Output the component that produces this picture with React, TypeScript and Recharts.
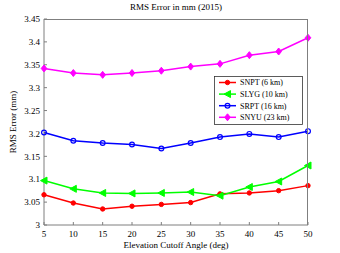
import React from 'react';
import { LineChart, Line, XAxis, YAxis } from 'recharts';

const angles = [5, 10, 15, 20, 25, 30, 35, 40, 45, 50];
const snpt = [3.066, 3.048, 3.035, 3.041, 3.045, 3.049, 3.068, 3.070, 3.075, 3.086];
const slyg = [3.097, 3.079, 3.070, 3.069, 3.070, 3.072, 3.064, 3.083, 3.095, 3.130];
const srpt = [3.202, 3.184, 3.179, 3.176, 3.167, 3.179, 3.192, 3.199, 3.192, 3.205];
const snyu = [3.342, 3.332, 3.328, 3.332, 3.337, 3.346, 3.352, 3.371, 3.379, 3.409];
const yTicks = [3, 3.05, 3.1, 3.15, 3.2, 3.25, 3.3, 3.35, 3.4, 3.45];

const data = angles.map((a, i) => ({ a, snpt: snpt[i], slyg: slyg[i], srpt: srpt[i], snyu: snyu[i] }));

const FONT = '"Liberation Serif", "Times New Roman", serif';
const AXIS = '#7f7f7f';

type MarkerKind = 'circle' | 'tri' | 'ring' | 'diamond';

function marker(kind: MarkerKind, color: string, cx: number, cy: number, key?: string) {
  if (kind === 'circle') return <circle key={key} cx={cx} cy={cy} r={2.2} fill={color} stroke={color} />;
  if (kind === 'ring') return <circle key={key} cx={cx} cy={cy} r={2.4} fill="none" stroke={color} strokeWidth={1.2} />;
  if (kind === 'tri')
    return <polygon key={key} points={`${cx - 3.5},${cy} ${cx + 3},${cy - 3.5} ${cx + 3},${cy + 3.5}`} fill={color} stroke={color} />;
  return <polygon key={key} points={`${cx},${cy - 3.5} ${cx + 2.8},${cy} ${cx},${cy + 3.5} ${cx - 2.8},${cy}`} fill={color} stroke={color} />;
}

const series: { key: string; name: string; color: string; kind: MarkerKind }[] = [
  { key: 'snpt', name: 'SNPT (6 km)', color: '#ff0000', kind: 'circle' },
  { key: 'slyg', name: 'SLYG (10 km)', color: '#00ff00', kind: 'tri' },
  { key: 'srpt', name: 'SRPT (16 km)', color: '#0000ff', kind: 'ring' },
  { key: 'snyu', name: 'SNYU (23 km)', color: '#ff00ff', kind: 'diamond' },
];

function LegendBox() {
  return (
    <svg width={89} height={49} style={{ display: 'block' }}>
      <rect x={0.5} y={0.5} width={88} height={48} fill="#fff" stroke="#333" strokeWidth={0.8} />
      {series.map((s, i) => {
        const y = 6.5 + i * 11.6;
        return (
          <g key={s.key}>
            <line x1={5} x2={22} y1={y} y2={y} stroke={s.color} strokeWidth={1.5} />
            {marker(s.kind, s.color, 13.5, y)}
            <text x={26} y={y + 2.8} fontSize={8} fontFamily={FONT} fill="#000">{s.name}</text>
          </g>
        );
      })}
    </svg>
  );
}

export default function App() {
  return (
    <div style={{ position: 'absolute', left: 0, top: 0, width: 340, height: 253, background: '#fff' }}>
      <div style={{ position: 'absolute', left: 44, width: 264, top: 2, textAlign: 'center', fontFamily: FONT, fontSize: 9 }}>
        RMS Error in mm (2015)
      </div>
      <LineChart width={340} height={253} data={data} margin={{ top: 19, right: 32, left: 10, bottom: 8 }}>
        <XAxis
          dataKey="a"
          type="number"
          domain={[5, 50]}
          ticks={angles}
          tickSize={-3}
          tickMargin={9}
          height={20}
          stroke={AXIS}
          tick={{ fontSize: 9, fontFamily: FONT, fill: '#000' }}
          label={{ value: 'Elevation Cutoff Angle (deg)', position: 'insideBottom', offset: -3, fontSize: 9, fontFamily: FONT, fill: '#000' }}
        />
        <YAxis
          type="number"
          domain={[3, 3.45]}
          ticks={yTicks}
          interval={0}
          tickSize={-3}
          tickMargin={7}
          width={34}
          stroke={AXIS}
          tickFormatter={(v: number) => String(v)}
          tick={{ fontSize: 9, fontFamily: FONT, fill: '#000' }}
          label={{ value: 'RMS Error (mm)', angle: -90, position: 'center', dx: -14, fontSize: 9, fontFamily: FONT, fill: '#000' }}
        />
        {series.map((s) => (
          <Line
            key={s.key}
            dataKey={s.key}
            name={s.name}
            stroke={s.color}
            strokeWidth={1.5}
            isAnimationActive={false}
            dot={(p: any) => marker(s.kind, s.color, p.cx, p.cy, `${s.key}-${p.index}`)}
            activeDot={false}
          />
        ))}
      </LineChart>
      <div style={{ position: 'absolute', left: 44, top: 19, width: 264, height: 206, borderTop: `1px solid ${AXIS}`, borderRight: `1px solid ${AXIS}`, boxSizing: 'border-box', pointerEvents: 'none' }} />
      <div style={{ position: 'absolute', left: 214, top: 76 }}>
        <LegendBox />
      </div>
    </div>
  );
}
